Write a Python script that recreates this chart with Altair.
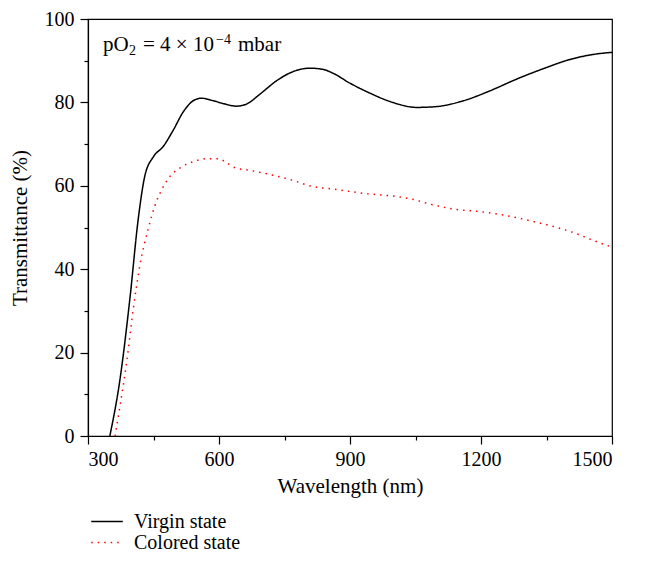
import altair as alt
import pandas as pd

virgin_wl = [350, 373, 396, 415, 430, 450, 472, 495, 518, 541, 560, 587, 610, 640, 663, 694,
             732, 770, 808, 839, 861, 900, 946, 992, 1053, 1098, 1160, 1221, 1282, 1343, 1404, 1457, 1500]
virgin_t = [0, 13.4, 33, 52, 62.3, 67, 69.4, 73.3, 77.7, 80.4, 81, 80.4, 79.7, 79.1, 79.6, 82,
            85.2, 87.4, 88.2, 87.9, 87.0, 84.6, 82.2, 80.2, 78.8, 79, 80.4, 82.8, 85.6, 88.1, 90.3, 91.5, 92]

colored_wl = [362, 373, 389, 404, 419, 438, 453, 469, 488, 511, 541, 572, 598, 614, 637, 671,
              717, 763, 816, 862, 896, 930, 984, 1038, 1084, 1137, 1198, 1251, 1313, 1374, 1419, 1457, 1500]
colored_t = [0, 7, 18.1, 30.7, 41, 49.7, 55.2, 59.1, 62.3, 64.3, 65.8, 66.5, 66.5, 65.8, 64.3, 63.7,
             62.7, 61.5, 59.8, 59.2, 58.7, 58.2, 57.7, 56.9, 55.6, 54.4, 53.8, 53, 51.6, 50, 48.5, 46.9, 45.3]

series = ["Virgin state", "Colored state"]
x_ticks = [300, 450, 600, 750, 900, 1050, 1200, 1350, 1500]
y_ticks = [0, 10, 20, 30, 40, 50, 60, 70, 80, 90, 100]

# annotation pieces: text, font size, x offset (px), baseline (px)
ann_text = ["pO", "2", "= 4 × 10", "−4", "mbar"]
ann_size = [21, 14, 21, 14, 21]
ann_x = [15, 41, 55, 128, 150]
ann_y = [32, 36, 32, 25, 32]

FONT = "Liberation Serif"

df = pd.concat([
    pd.DataFrame({"wl": virgin_wl, "t": virgin_t, "series": series[0]}),
    pd.DataFrame({"wl": colored_wl, "t": colored_t, "series": series[1]}),
])

x = alt.X("wl:Q", scale=alt.Scale(domain=[300, 1500], nice=False, zero=False),
          axis=alt.Axis(values=x_ticks, title="Wavelength (nm)", format="d",
                        labelExpr="datum.value % 300 === 0 ? datum.label : ''",
                        tickSize=alt.ExprRef(expr="datum.value % 300 === 0 ? 8 : 4"),
                        labelPadding=5, titlePadding=6))
y = alt.Y("t:Q", scale=alt.Scale(domain=[0, 100], nice=False),
          axis=alt.Axis(values=y_ticks, title="Transmittance (%)", format="d",
                        labelExpr="datum.value % 20 === 0 ? datum.label : ''",
                        tickSize=alt.ExprRef(expr="datum.value % 20 === 0 ? 8 : 4"),
                        labelPadding=6, titlePadding=14))

legend_kw = dict(title=None, orient="none", legendX=2, legendY=492,
                 symbolType="stroke", symbolSize=1000, symbolStrokeWidth=1.5,
                 labelFont=FONT, labelFontSize=20, rowPadding=0, clipHeight=21,
                 labelOffset=10, labelColor="black")

lines = alt.Chart(df).mark_line(interpolate="monotone", strokeWidth=1.5, strokeCap="butt").encode(
    x=x, y=y,
    color=alt.Color("series:N", scale=alt.Scale(domain=series, range=["black", "red"]),
                    legend=alt.Legend(**legend_kw)),
    strokeDash=alt.StrokeDash("series:N", scale=alt.Scale(domain=series, range=[[1, 0], [1.5, 5]]),
                              legend=alt.Legend(**legend_kw)),
    order=alt.Order("wl:Q"),
)

layers = [lines]
for t, s, px, py in zip(ann_text, ann_size, ann_x, ann_y):
    layers.append(
        alt.Chart(pd.DataFrame({"label": [t]})).mark_text(
            align="left", baseline="alphabetic", font=FONT, fontSize=s, color="black"
        ).encode(x=alt.value(px), y=alt.value(py), text="label:N")
    )

chart = alt.layer(*layers).properties(
    width=524, height=417,
    autosize=alt.AutoSizeParams(type="none"),
    padding={"left": 80, "top": 11, "right": 27, "bottom": 131},
).configure_view(stroke="black", strokeWidth=1.2).configure_axis(
    labelFont=FONT, labelFontSize=20, titleFont=FONT, titleFontSize=21, titleFontWeight="normal",
    labelColor="black", titleColor="black", domainColor="black", tickColor="black",
    grid=False, domainWidth=1.2, tickWidth=1.2
)

chart.save("out.html", embed_options={"renderer": "svg", "actions": False})
